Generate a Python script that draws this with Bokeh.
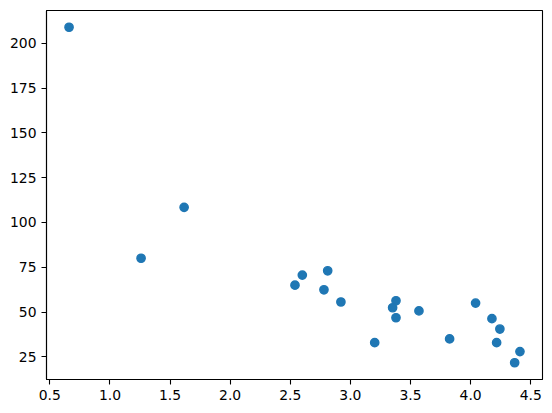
from bokeh.plotting import figure
from bokeh.models import Range1d, FixedTicker, PrintfTickFormatter
from bokeh.embed import file_html
from bokeh.resources import INLINE

# Data
x_vals = [0.660, 1.617, 1.259, 2.539, 2.600, 2.811, 2.780, 2.921, 3.202, 3.379,
          3.351, 3.379, 3.570, 3.825, 4.041, 4.177, 4.243, 4.216, 4.410, 4.366]
y_vals = [208.9, 108.4, 80.0, 65.0, 70.6, 73.0, 62.4, 55.6, 32.9, 56.3,
          52.4, 46.8, 50.6, 35.0, 55.0, 46.3, 40.5, 32.9, 27.9, 21.7]
x_ticks = [0.5, 1.0, 1.5, 2.0, 2.5, 3.0, 3.5, 4.0, 4.5]
y_ticks = [25, 50, 75, 100, 125, 150, 175, 200]

def padded(vals, frac=0.05):
    lo, hi = min(vals), max(vals)
    pad = (hi - lo) * frac
    return Range1d(lo - pad, hi + pad)

p = figure(width=544, height=405, output_backend="svg", toolbar_location=None,
           x_range=padded(x_vals), y_range=padded(y_vals))
p.min_border_left = 46
p.min_border_right = 2
p.min_border_top = 10
p.min_border_bottom = 26
p.background_fill_color = "white"
p.border_fill_color = "white"
p.outline_line_color = "black"
p.outline_line_width = 1.1
p.outline_line_alpha = 1.0
p.grid.visible = False

p.scatter(x_vals, y_vals, size=8.3, fill_color="#1f77b4", line_color="#1f77b4",
          line_width=1.4)

for ax in (p.xaxis[0], p.yaxis[0]):
    ax.axis_line_color = "black"
    ax.axis_line_width = 1.1
    ax.major_tick_line_color = "black"
    ax.major_tick_line_width = 1.1
    ax.major_tick_out = 5
    ax.major_tick_in = 0
    ax.minor_tick_line_color = None
    ax.major_label_text_font = "DejaVu Sans"
    ax.major_label_text_font_size = "13.9px"
    ax.major_label_text_color = "black"
    ax.major_label_standoff = 5

p.xaxis[0].ticker = FixedTicker(ticks=x_ticks)
p.xaxis[0].formatter = PrintfTickFormatter(format="%.1f")
p.yaxis[0].ticker = FixedTicker(ticks=y_ticks)
p.yaxis[0].formatter = PrintfTickFormatter(format="%d")

open("out.html", "w").write(file_html(p, INLINE))
